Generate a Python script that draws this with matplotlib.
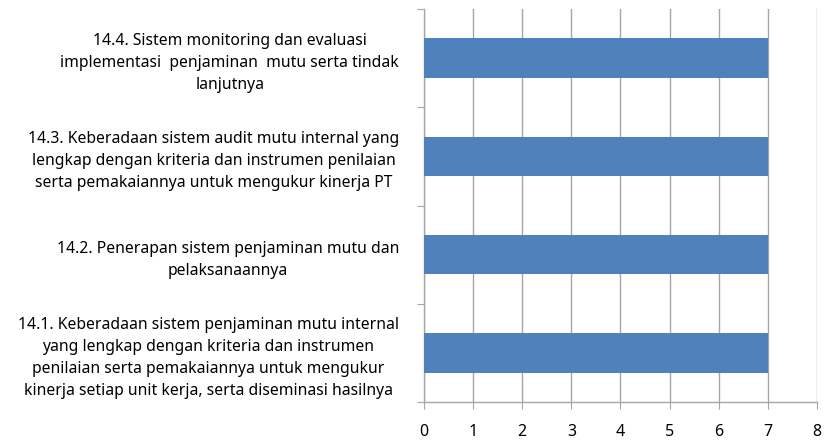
import matplotlib
matplotlib.use("Agg")
import matplotlib.pyplot as plt
import numpy as np

categories = [
    "14.1. Keberadaan sistem penjaminan mutu internal\nyang lengkap dengan kriteria dan instrumen\npenilaian serta pemakaiannya untuk mengukur\nkinerja setiap unit kerja, serta diseminasi hasilnya",
    "14.2. Penerapan sistem penjaminan mutu dan\npelaksanaannya",
    "14.3. Keberadaan sistem audit mutu internal yang\nlengkap dengan kriteria dan instrumen penilaian\nserta pemakaiannya untuk mengukur kinerja PT",
    "14.4. Sistem monitoring dan evaluasi\nimplementasi  penjaminan  mutu serta tindak\nlanjutnya",
]
values = [7, 7, 7, 7]
x_ticks = list(range(0, 9))

plt.rcParams["font.family"] = ["Noto Sans", "DejaVu Sans"]

fig = plt.figure(figsize=(8.27, 4.41), dpi=100)
ax = fig.add_axes([0.5127, 0.0884, 0.4752, 0.8912])

pos = np.arange(len(categories))
ax.barh(pos, values, height=0.4, color="#4F81BD", zorder=3)

ax.set_xlim(0, 8)
ax.set_ylim(-0.5, len(categories) - 0.5)
ax.set_xticks(x_ticks)
ax.set_xticklabels([str(v) for v in x_ticks], fontsize=11.5)
ax.grid(axis="x", color="#a6a6a6", linewidth=1.0, zorder=0)
ax.tick_params(axis="x", direction="out", length=5, color="#a6a6a6", pad=11, labelcolor="black")

# category boundaries as major ticks, labels on minor ticks
ax.set_yticks(np.arange(-0.5, len(categories), 1.0))
ax.set_yticklabels([])
ax.set_yticks(pos, minor=True)
ax.set_yticklabels(categories, minor=True, fontsize=11.3, multialignment="center", linespacing=1.5)
ax.tick_params(axis="y", which="major", direction="out", length=5, color="#a6a6a6")
ax.tick_params(axis="y", which="minor", length=0, pad=18)

for s in ["top", "right"]:
    ax.spines[s].set_visible(False)
for s in ["left", "bottom"]:
    ax.spines[s].set_color("#a6a6a6")
    ax.spines[s].set_linewidth(1.0)

fig.savefig("out.png", dpi=100)
